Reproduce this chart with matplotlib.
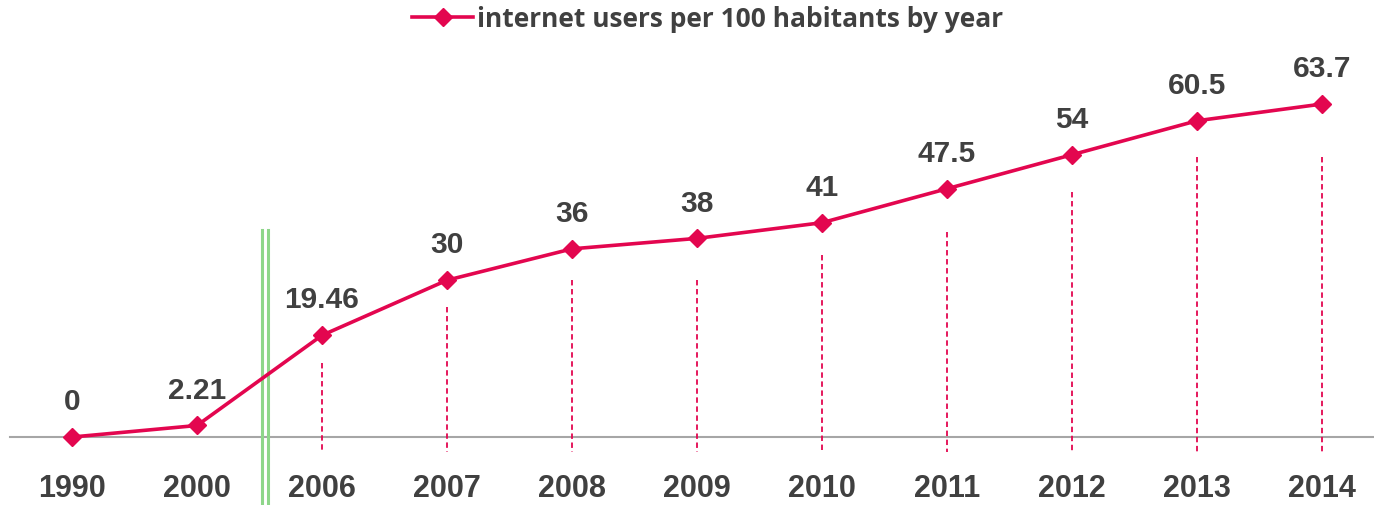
import matplotlib
matplotlib.use("Agg")
import matplotlib.pyplot as plt
from matplotlib.lines import Line2D

years = ["1990", "2000", "2006", "2007", "2008", "2009", "2010", "2011", "2012", "2013", "2014"]
users = [0, 2.21, 19.46, 30, 36, 38, 41, 47.5, 54, 60.5, 63.7]
value_labels = ["0", "2.21", "19.46", "30", "36", "38", "41", "47.5", "54", "60.5", "63.7"]
# top of the dashed drop lines (data units) for 2006..2014
dash_tops = [14.1, 24.9, 30.0, 30.0, 34.8, 39.2, 46.8, 53.5, 53.5]
series_name = "internet users per 100 habitants by year"

RED = "#E3064F"
TXT = "#404040"

fig = plt.figure(figsize=(13.74, 5.05), dpi=100)
ax = fig.add_axes([0, 0, 1, 1])
ax.set_xlim(-0.576, 10.416)
ax.set_ylim(-13.0, 83.6)
ax.axis("off")

x = list(range(len(years)))

# baseline
ax.plot([-0.5, 10.5], [0, 0], color="#A6A6A6", lw=1.5, zorder=1)

# dashed drop lines
for xi, top in zip(x[2:], dash_tops):
    ax.plot([xi, xi], [top, -2.9], color=RED, lw=1.3, ls=(0, (3, 2)), zorder=2)

# green break marker
for gx in (1.52, 1.568):
    ax.plot([gx, gx], [39.6, -13.0], color="#8ED68A", lw=2.2, zorder=2)

# main line
ax.plot(x, users, color=RED, lw=2.6, marker="D", markersize=9, zorder=4)

for xi, v, lab in zip(x, users, value_labels):
    ax.annotate(lab, (xi, v), xytext=(0, 15), textcoords="offset points",
                ha="center", va="bottom", fontsize=21.5, fontweight="bold",
                color=TXT, family="Liberation Sans")

for xi, yr in zip(x, years):
    ax.text(xi, -9.9, yr, ha="center", va="center", fontsize=22,
            fontweight="bold", color=TXT, family="Liberation Sans")

handle = Line2D([], [], color=RED, lw=2.6, marker="D", markersize=9)
fig.legend([handle], [series_name], loc="center", bbox_to_anchor=(0.515, 0.962),
           frameon=False, prop={"family": "Open Sans", "weight": "bold", "size": 19},
           labelcolor=TXT, handlelength=2.3, handletextpad=0.15)

fig.savefig("out.png", dpi=100)
